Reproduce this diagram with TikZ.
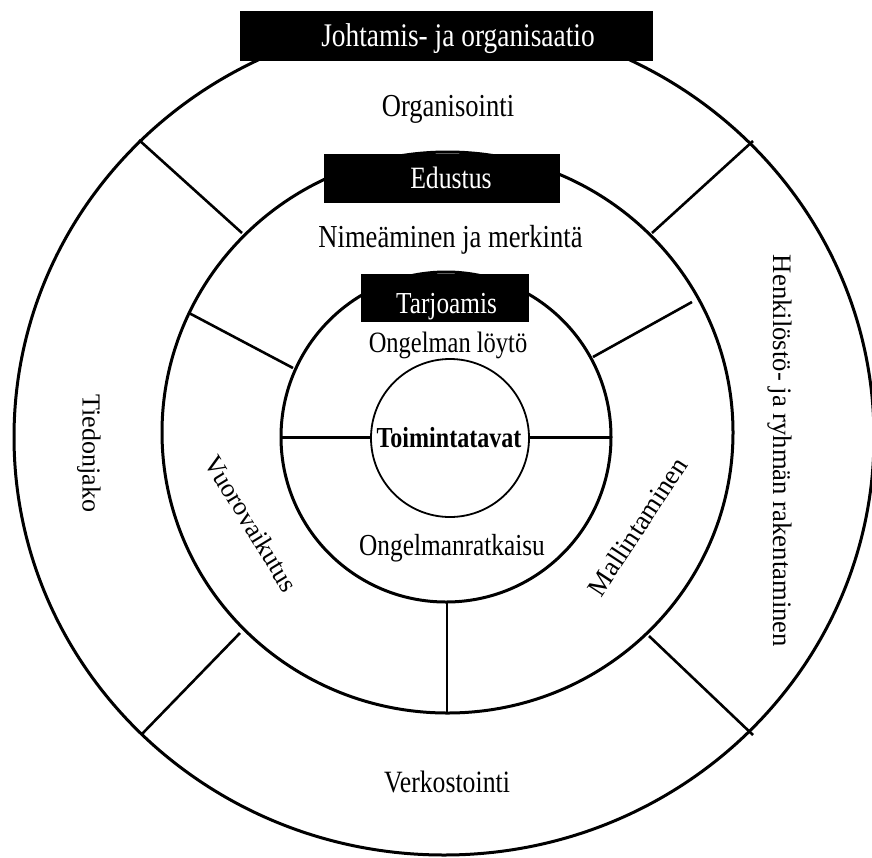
\documentclass[tikz,border=0pt]{standalone}
\usepackage{fontspec}
\setmainfont{Liberation Serif}

% A label set in condensed type: the scope compresses the page x axis,
% the node turns the text inside it.
% #1 name, #2 position, #3 angle, #4 size, #5 extra node options, #6 text
\newcommand\ringtext[6]{%
  \begin{scope}[shift={#2}, xscale=0.83]
    \node[transform shape, rotate=#3, inner sep=0pt,
          font=\fontsize{#4}{#4}\selectfont, #5] (#1) at (0,0) {#6};
  \end{scope}}
% The same, in type of normal width (used for the turned labels).
\newcommand\sidetext[6]{%
  \begin{scope}[shift={#2}]
    \node[transform shape, rotate=#3, inner sep=0pt,
          font=\fontsize{#4}{#4}\selectfont, #5] (#1) at (0,0) {#6};
  \end{scope}}

\begin{document}
\begin{tikzpicture}[x=1pt, y=-1pt,
  ring/.style={draw=black, line width=3pt},
  core/.style={draw=black, line width=1.8pt},
  divider/.style={draw=black, line width=2.6pt},
  tab/.style={fill=black},
  tabtext/.style={text=white, anchor=base},
  plain/.style={text=black, anchor=base},
]
\useasboundingbox (0,0) rectangle (872,857);
\fill[white] (0,0) rectangle (872,857);

% concentric rings
\draw[ring] (444,437) ellipse [x radius=430pt, y radius=418pt];
\draw[ring] (447.5,432.5) ellipse [x radius=285.5pt, y radius=280.5pt];
\draw[ring] (446,437) circle [radius=165pt];
\draw[core] (450,438) circle [radius=79pt];

% inner ring split in two halves
\draw[ring] (281,437) -- (371,437);
\draw[ring] (529,437) -- (611,437);

% middle ring sectors
\draw[divider] (293,368) -- (189,313);
\draw[divider] (593,357) -- (692,302);
\draw[divider] (447,602) -- (447,713);

% outer ring sectors
\draw[divider] (242,233) -- (139,140);
\draw[divider] (652,233) -- (753,141);
\draw[divider] (240,633) -- (141,735);
\draw[divider] (649,636) -- (753,735);

% black title tabs
\fill[tab] (240,11) rectangle (653,61);
\fill[tab] (324,154) rectangle (560,203);
\fill[tab] (361,274) rectangle (529,322);

% tab titles
\ringtext{tabOuter}{(458,46)}{0}{33}{tabtext}{Johtamis- ja organisaatio}
\ringtext{tabMiddle}{(451,188)}{0}{31}{tabtext}{Edustus}
\ringtext{tabInner}{(446.5,313)}{0}{30.5}{tabtext}{Tarjoamis}

% outer ring labels
\ringtext{organisointi}{(448,116)}{0}{32}{plain}{Organisointi}
\ringtext{verkostointi}{(447,792)}{0}{31}{plain}{Verkostointi}
\sidetext{tiedonjako}{(89,453.5)}{-90}{26}{}{Tiedonjako}
\sidetext{henkilosto}{(780,451)}{-90}{26.7}{}{Henkilöstö- ja ryhmän rakentaminen}

% middle ring labels
\ringtext{nimeaminen}{(450.5,247)}{0}{32}{plain}{Nimeäminen ja merkintä}
\sidetext{vuorovaikutus}{(251.5,523.5)}{-58.7}{26.2}{}{Vuorovaikutus}
\sidetext{mallintaminen}{(637.5,526.5)}{56.8}{27}{}{Mallintaminen}

% inner ring labels
\ringtext{loyto}{(448,352)}{0}{29.5}{plain}{Ongelman löytö}
\ringtext{ratkaisu}{(452,555)}{0}{30.5}{plain}{Ongelmanratkaisu}

% core
\ringtext{toimintatavat}{(449,447)}{0}{29}{plain}{\bfseries Toimintatavat}
\end{tikzpicture}
\end{document}
